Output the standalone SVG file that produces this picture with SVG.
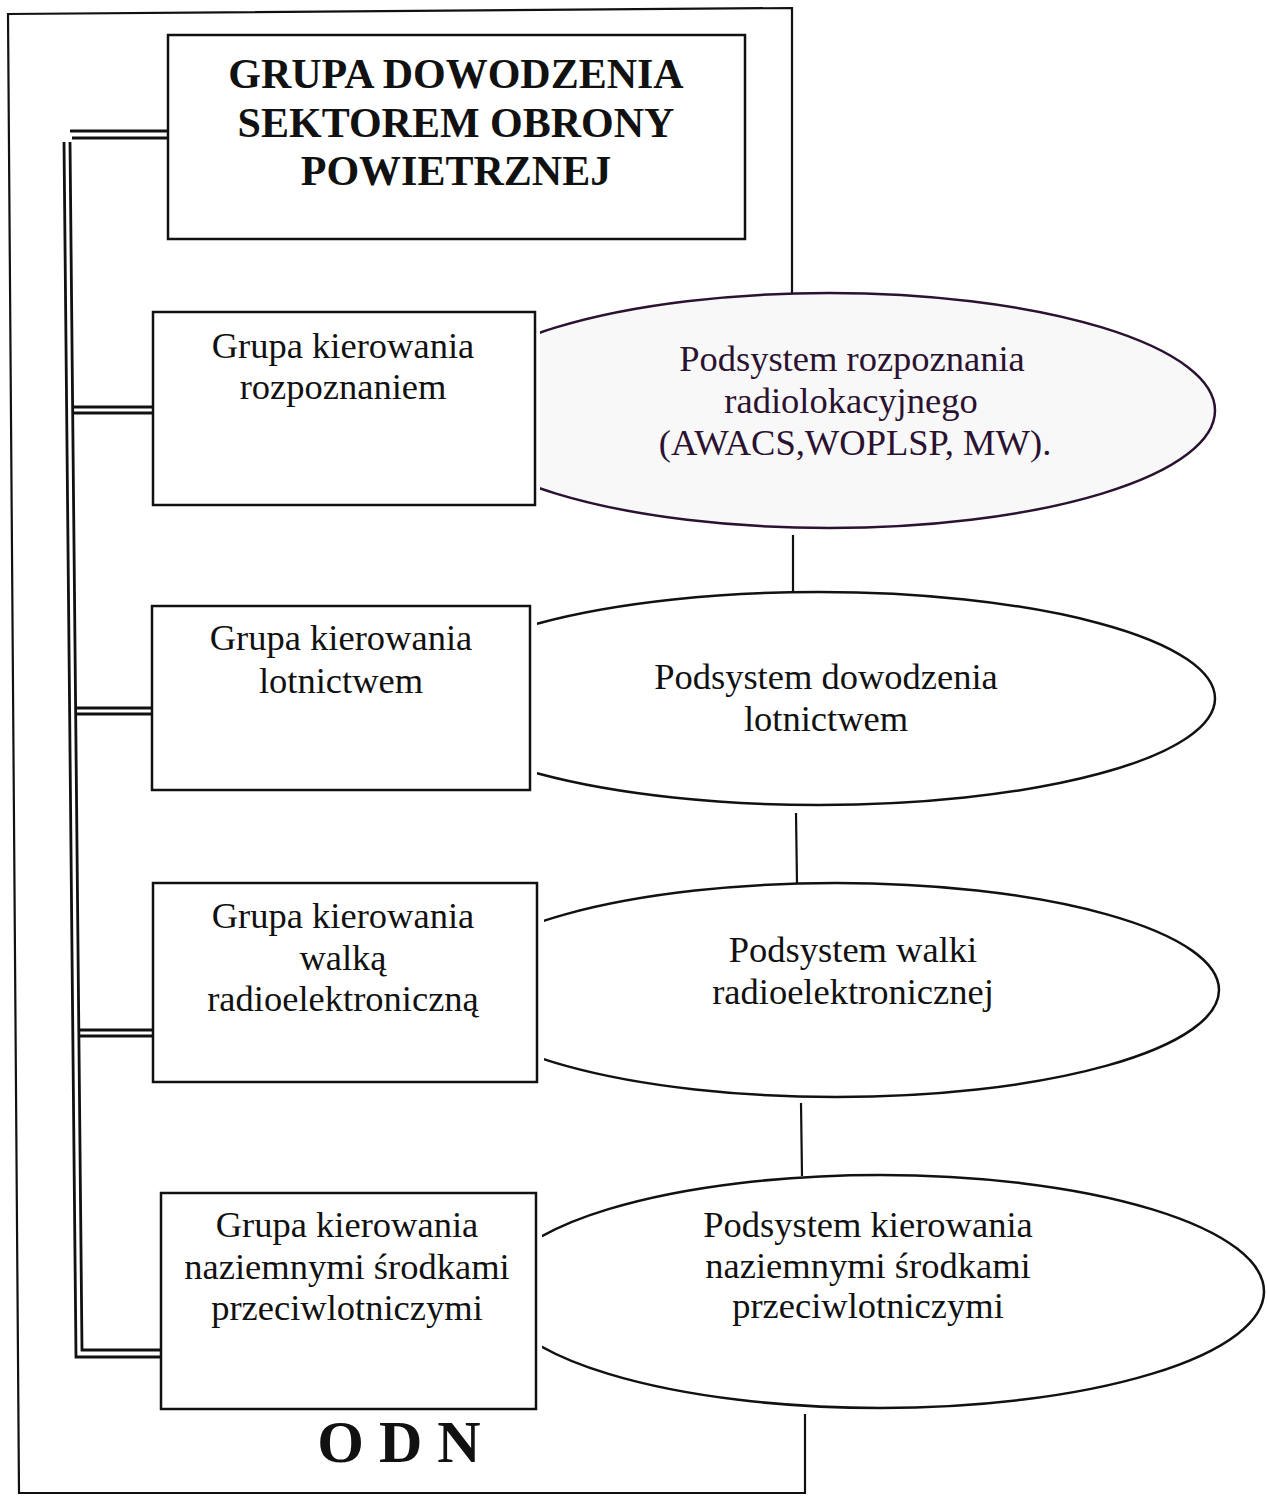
<svg xmlns="http://www.w3.org/2000/svg" width="1267" height="1498" viewBox="0 0 1267 1498">
  <style>
    .box { fill: #ffffff; stroke: #111111; stroke-width: 2.5; }
    .oval { fill: #ffffff; stroke: #111111; stroke-width: 2.5; }
    .oval.tint { fill: #f9f8f9; stroke: #2a1230; }
    .line { fill: none; stroke: #111111; stroke-width: 2.2; }
    .dbl { fill: none; stroke: #111111; stroke-width: 2.8; }
    .label { font-family: "Liberation Serif", "Times New Roman", serif; font-size: 36.5px; fill: #111111; text-anchor: middle; }
    .label.tint { fill: #2a1230; }
    .title { font-family: "Liberation Serif", "Times New Roman", serif; font-size: 42px; font-weight: bold; fill: #111111; text-anchor: middle; }
    .mark { font-family: "Liberation Serif", "Times New Roman", serif; font-size: 60px; font-weight: bold; fill: #111111; text-anchor: middle; }
  </style>
  <defs>
    <!-- the left end of every oval is tucked behind its box -->
    <clipPath id="cut1" clipPathUnits="userSpaceOnUse"><rect x="540" y="280" width="727" height="260"/></clipPath>
    <clipPath id="cut2" clipPathUnits="userSpaceOnUse"><rect x="537" y="580" width="730" height="240"/></clipPath>
    <clipPath id="cut3" clipPathUnits="userSpaceOnUse"><rect x="544" y="870" width="723" height="240"/></clipPath>
    <clipPath id="cut4" clipPathUnits="userSpaceOnUse"><rect x="542" y="1165" width="725" height="260"/></clipPath>
  </defs>

  <rect width="1267" height="1498" fill="#ffffff"/>

  <!-- outer ODN frame, broken by the ovals on the right -->
  <g id="frame">
    <path class="line" d="M 792 293 L 792 8 L 8 14 L 19 1493 L 805 1493 L 805 1414"/>
    <line class="line" x1="793" y1="535" x2="793" y2="594"/>
    <line class="line" x1="796" y1="813" x2="797" y2="884"/>
    <line class="line" x1="801" y1="1103" x2="802" y2="1176"/>
  </g>

  <!-- double-line links from the command group to each control group -->
  <g id="connectors">
    <line class="dbl" x1="70" y1="131" x2="168" y2="131"/>
    <line class="dbl" x1="72" y1="138" x2="168" y2="138"/>
    <path class="dbl" d="M 64 142 L 76 1357 L 162 1357"/>
    <path class="dbl" d="M 70 142 L 82 1350 L 162 1350"/>
    <line class="dbl" x1="72" y1="407" x2="153" y2="407"/>
    <line class="dbl" x1="72" y1="413" x2="153" y2="413"/>
    <line class="dbl" x1="75" y1="708" x2="152" y2="708"/>
    <line class="dbl" x1="75" y1="714" x2="152" y2="714"/>
    <line class="dbl" x1="79" y1="1030" x2="153" y2="1030"/>
    <line class="dbl" x1="79" y1="1036" x2="153" y2="1036"/>
  </g>

  <g id="command-group">
    <rect class="box" x="168" y="35" width="577" height="204"/>
    <text class="title" x="456" y="88">GRUPA DOWODZENIA</text>
    <text class="title" x="456" y="137">SEKTOREM OBRONY</text>
    <text class="title" x="456" y="185">POWIETRZNEJ</text>
  </g>

  <g id="radar-subsystem">
    <ellipse class="oval tint" cx="829" cy="410.5" rx="386" ry="117.5" clip-path="url(#cut1)"/>
    <text class="label tint" x="852" y="371">Podsystem rozpoznania</text>
    <text class="label tint" x="851" y="413">radiolokacyjnego</text>
    <text class="label tint" x="855" y="455">(AWACS,WOPLSP, MW).</text>
  </g>

  <g id="recon-group">
    <rect class="box" x="153" y="312" width="382" height="193"/>
    <text class="label" x="343" y="358">Grupa kierowania</text>
    <text class="label" x="343" y="399">rozpoznaniem</text>
  </g>

  <g id="aviation-subsystem">
    <ellipse class="oval" cx="819" cy="698.5" rx="396" ry="106.5" clip-path="url(#cut2)"/>
    <text class="label" x="826" y="689">Podsystem dowodzenia</text>
    <text class="label" x="826" y="731">lotnictwem</text>
  </g>

  <g id="aviation-group">
    <rect class="box" x="152" y="606" width="378" height="184"/>
    <text class="label" x="341" y="650">Grupa kierowania</text>
    <text class="label" x="341" y="693">lotnictwem</text>
  </g>

  <g id="ew-subsystem">
    <ellipse class="oval" cx="836" cy="990" rx="383" ry="107" clip-path="url(#cut3)"/>
    <text class="label" x="853" y="962">Podsystem walki</text>
    <text class="label" x="853" y="1004">radioelektronicznej</text>
  </g>

  <g id="ew-group">
    <rect class="box" x="153" y="883" width="384" height="199"/>
    <text class="label" x="343" y="928">Grupa kierowania</text>
    <text class="label" x="343" y="970">walką</text>
    <text class="label" x="343" y="1011">radioelektroniczną</text>
  </g>

  <g id="ground-subsystem">
    <ellipse class="oval" cx="880" cy="1291.5" rx="384" ry="116.5" clip-path="url(#cut4)"/>
    <text class="label" x="868" y="1237">Podsystem kierowania</text>
    <text class="label" x="868" y="1278">naziemnymi środkami</text>
    <text class="label" x="868" y="1318">przeciwlotniczymi</text>
  </g>

  <g id="ground-group">
    <rect class="box" x="161" y="1193" width="375" height="216"/>
    <text class="label" x="347" y="1237">Grupa kierowania</text>
    <text class="label" x="347" y="1279">naziemnymi środkami</text>
    <text class="label" x="347" y="1320">przeciwlotniczymi</text>
  </g>

  <g id="odn-label">
    <text class="mark" x="399" y="1462">O D N</text>
  </g>
</svg>
